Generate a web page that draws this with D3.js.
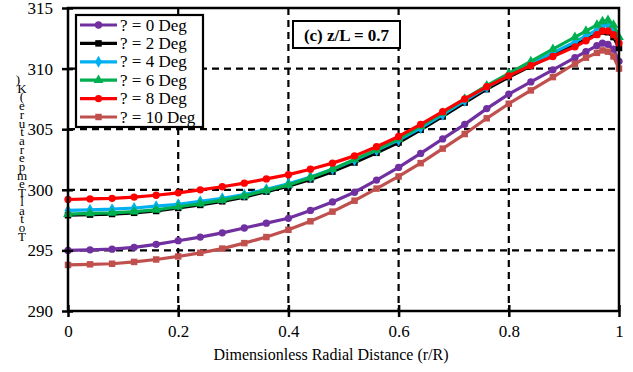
<!DOCTYPE html>
<html>
<head>
<meta charset="utf-8">
<script src="https://cdn.jsdelivr.net/npm/d3@7/dist/d3.min.js"></script>
<style>
  html, body { margin: 0; padding: 0; background: #fff; }
  svg, svg text { font-family: "Times New Roman", "Liberation Serif", Tinos, "DejaVu Serif", serif; }
</style>
</head>
<body>
<svg id="chart" width="633" height="372"></svg>
<script>
// Radial positions (r/R) of the sampled points
const radial = [0, 0.04, 0.08, 0.12, 0.16, 0.20, 0.24, 0.28, 0.32, 0.36, 0.40, 0.44, 0.48, 0.52, 0.56,
  0.60, 0.64, 0.68, 0.72, 0.76, 0.80, 0.84, 0.88, 0.92, 0.94, 0.96, 0.97, 0.98, 0.99, 1.0];

// Total temperature (K) for each inclination angle
const temp0 = [295.0, 295.05, 295.1, 295.25, 295.5, 295.8, 296.1, 296.45, 296.85, 297.25, 297.65, 298.3, 299.0, 299.8, 300.8,
  301.85, 303.0, 304.2, 305.4, 306.7, 307.9, 308.9, 309.9, 310.9, 311.4, 311.9, 312.1, 312.0, 311.6, 310.6];
const temp2 = [297.9, 297.95, 298.0, 298.1, 298.25, 298.5, 298.75, 299.05, 299.4, 299.85, 300.3, 300.85, 301.5, 302.25, 303.05,
  303.9, 304.95, 306.05, 307.2, 308.3, 309.3, 310.2, 311.1, 311.95, 312.4, 312.85, 313.05, 313.0, 312.6, 311.7];
const temp4 = [298.3, 298.35, 298.4, 298.5, 298.65, 298.8, 299.05, 299.3, 299.6, 300.05, 300.5, 301.05, 301.7, 302.45, 303.25,
  304.1, 305.1, 306.2, 307.35, 308.45, 309.45, 310.4, 311.3, 312.2, 312.7, 313.2, 313.5, 313.6, 313.2, 312.2];
const temp6 = [298.0, 298.05, 298.1, 298.2, 298.35, 298.6, 298.85, 299.15, 299.5, 299.95, 300.4, 301.0, 301.7, 302.5, 303.3,
  304.2, 305.25, 306.35, 307.5, 308.6, 309.6, 310.6, 311.6, 312.6, 313.1, 313.6, 313.9, 314.0, 313.6, 312.6];
const temp8 = [299.2, 299.25, 299.3, 299.4, 299.55, 299.75, 300.0, 300.25, 300.55, 300.9, 301.25, 301.7, 302.2, 302.8, 303.55,
  304.4, 305.4, 306.45, 307.5, 308.5, 309.4, 310.25, 311.0, 311.8, 312.3, 312.8, 313.1, 313.1, 312.8, 312.1];
const temp10 = [293.8, 293.85, 293.9, 294.05, 294.25, 294.5, 294.8, 295.15, 295.6, 296.1, 296.7, 297.4, 298.2, 299.1, 300.1,
  301.1, 302.2, 303.4, 304.6, 305.9, 307.1, 308.2, 309.3, 310.4, 310.9, 311.3, 311.5, 311.4, 311.0, 310.0];

const seriesNames = ["? = 0 Deg", "? = 2 Deg", "? = 4 Deg", "? = 6 Deg", "? = 8 Deg", "? = 10 Deg"];
const seriesValues = [temp0, temp2, temp4, temp6, temp8, temp10];
const seriesColors = ["#7030A0", "#000000", "#00B0F0", "#00B050", "#FF0000", "#C0504D"];
const seriesSymbols = [d3.symbolCircle, d3.symbolSquare, d3.symbolDiamond, d3.symbolTriangle, d3.symbolCircle, d3.symbolSquare];

const xTicks = [0, 0.2, 0.4, 0.6, 0.8, 1];
const yTicks = [290, 295, 300, 305, 310, 315];

const xTitle = "Dimensionless Radial Distance (r/R)";
const yTitle = "Total Temperature (K)";
const note = "(c) z/L = 0.7";

const serif = "'Times New Roman', 'Liberation Serif', Tinos, 'DejaVu Serif', serif";

const svg = d3.select("#chart").attr("font-family", serif);
const x = d3.scaleLinear().domain([0, 1]).range([68, 619]);
const y = d3.scaleLinear().domain([290, 315]).range([311, 8]);

// dashed grid
const grid = svg.append("g");
grid.selectAll("line.v").data(xTicks.slice(1, -1)).join("line")
  .attr("x1", d => x(d)).attr("x2", d => x(d)).attr("y1", y(315)).attr("y2", y(290))
  .attr("stroke", "#000").attr("stroke-width", 2.2).attr("stroke-dasharray", "7,5");
grid.selectAll("line.h").data(yTicks.slice(1, -1)).join("line")
  .attr("x1", x(0)).attr("x2", x(1)).attr("y1", d => y(d)).attr("y2", d => y(d))
  .attr("stroke", "#000").attr("stroke-width", 2.2).attr("stroke-dasharray", "7,5");

// series
const line = d3.line().x(d => x(d[0])).y(d => y(d[1]));
seriesValues.forEach((vals, i) => {
  const pts = radial.map((r, j) => [r, vals[j]]);
  const g = svg.append("g");
  g.append("path").datum(pts).attr("d", line)
    .attr("fill", "none").attr("stroke", seriesColors[i]).attr("stroke-width", 3.2)
    .attr("stroke-linejoin", "round");
  g.selectAll("path.m").data(pts).join("path")
    .attr("transform", d => `translate(${x(d[0])},${y(d[1])})`)
    .attr("d", d3.symbol().type(seriesSymbols[i]).size(42))
    .attr("fill", seriesColors[i]);
});

// frame
svg.append("rect").attr("x", x(0)).attr("y", y(315))
  .attr("width", x(1) - x(0)).attr("height", y(290) - y(315))
  .attr("fill", "none").attr("stroke", "#000").attr("stroke-width", 2.5);

// axes
const xAxis = svg.append("g").attr("transform", `translate(0,${y(290)})`)
  .call(d3.axisBottom(x).tickValues(xTicks).tickFormat(d3.format("~g")).tickSize(6).tickPadding(8))
  .attr("font-family", serif);
xAxis.select(".domain").remove();
xAxis.selectAll(".tick line").attr("y1", -6).attr("y2", 6).attr("stroke-width", 2.5);
xAxis.selectAll("text").attr("font-size", 17).attr("fill", "#000");

const yAxis = svg.append("g").attr("transform", `translate(${x(0)},0)`)
  .call(d3.axisLeft(y).tickValues(yTicks).tickSize(6).tickPadding(9))
  .attr("font-family", serif);
yAxis.select(".domain").remove();
yAxis.selectAll(".tick line").attr("x1", -6).attr("x2", 5).attr("stroke-width", 2.5);
yAxis.selectAll("text").attr("font-size", 17).attr("fill", "#000");

// axis titles
svg.append("text").attr("x", 331).attr("y", 360).attr("text-anchor", "middle")
  .attr("font-size", 16).text(xTitle);

// y title: glyphs stacked upright, reading bottom to top
const yChars = yTitle.replace(/ /g, "").split("").reverse();
svg.append("text").attr("text-anchor", "middle").attr("font-size", 13)
  .selectAll("tspan").data(yChars).join("tspan")
  .attr("x", (d, i) => i === 0 ? 18 : 22)
  .attr("y", (d, i) => 84 + i * 8.7)
  .text(d => d);

// legend
const lg = svg.append("g");
lg.append("rect").attr("x", 76).attr("y", 15).attr("width", 127).attr("height", 112)
  .attr("fill", "#fff").attr("stroke", "#000").attr("stroke-width", 2.2);
seriesNames.forEach((name, i) => {
  const cy = 25 + i * 18.4;
  lg.append("line").attr("x1", 80).attr("x2", 117).attr("y1", cy).attr("y2", cy)
    .attr("stroke", seriesColors[i]).attr("stroke-width", 3.2);
  lg.append("path").attr("transform", `translate(98.5,${cy})`)
    .attr("d", d3.symbol().type(seriesSymbols[i]).size(42)).attr("fill", seriesColors[i]);
  lg.append("text").attr("x", 120).attr("y", cy + 5.5).attr("font-size", 17).text(name);
});

// annotation
svg.append("rect").attr("x", 293).attr("y", 21).attr("width", 107).attr("height", 27)
  .attr("fill", "#fff").attr("stroke", "#000").attr("stroke-width", 2);
svg.append("text").attr("x", 346.5).attr("y", 41).attr("text-anchor", "middle")
  .attr("font-size", 17).attr("font-weight", "bold").text(note);
</script>
</body>
</html>
